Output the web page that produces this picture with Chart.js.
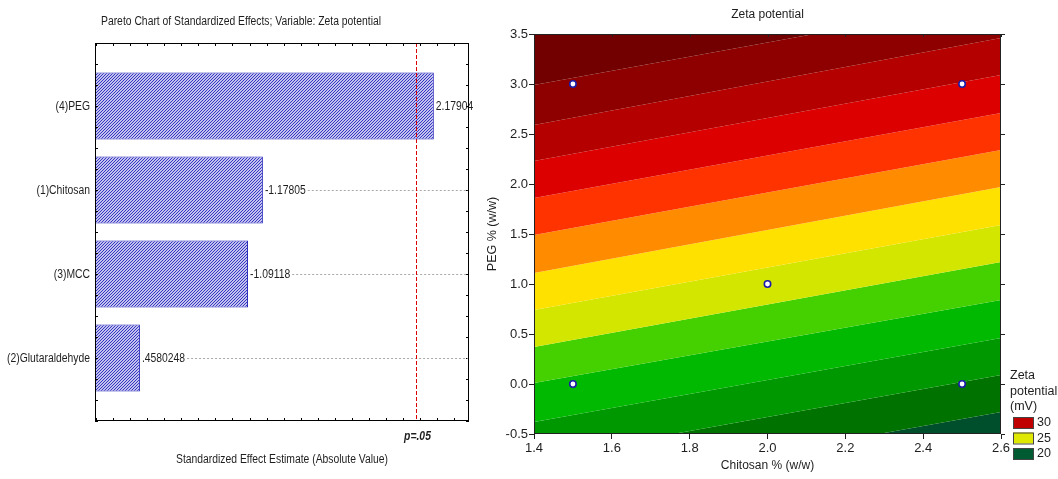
<!DOCTYPE html>
<html><head><meta charset="utf-8">
<script src="https://cdn.jsdelivr.net/npm/chart.js@4.4.0/dist/chart.umd.min.js"></script>
<style>
html,body{margin:0;padding:0;background:#fff;width:1058px;height:479px;overflow:hidden}
#left{position:absolute;left:0;top:0}
#right{position:absolute;left:470px;top:0}
</style></head><body>
<canvas id="left" width="490" height="479"></canvas>
<canvas id="right" width="588" height="479"></canvas>
<script>
// ---------- Pareto chart data ----------
const effectNames = ['(4)PEG', '(1)Chitosan', '(3)MCC', '(2)Glutaraldehyde'];
const effectValues = [2.17904, -1.17805, -1.09118, 0.4580248];
const pCritical = 2.0739;
const paretoTitle = 'Pareto Chart of Standardized Effects; Variable: Zeta potential';
const paretoXTitle = 'Standardized Effect Estimate (Absolute Value)';
const pLabel = 'p=.05';

// ---------- Contour chart data ----------
const contourTitle = 'Zeta potential';
const contourXTitle = 'Chitosan % (w/w)';
const contourYTitle = 'PEG % (w/w)';
const chitosanTicks = [1.4, 1.6, 1.8, 2.0, 2.2, 2.4, 2.6];
const pegTicks = [-0.5, 0.0, 0.5, 1.0, 1.5, 2.0, 2.5, 3.0, 3.5];
// contour boundaries (PEG value at Chitosan = 1.4 and at Chitosan = 2.6), top to bottom
const boundaryChitosan = [1.4, 2.6];
const boundaryAtLeft  = [2.99, 2.59, 2.23, 1.86, 1.49, 1.11, 0.74, 0.37, 0.01, -0.38, -0.75, -1.12];
const boundaryAtRight = [3.84, 3.46, 3.09, 2.71, 2.34, 1.97, 1.59, 1.22, 0.84, 0.46, 0.09, -0.28];
const bandColors = ['#720000', '#8e0000', '#b50000', '#dc0000', '#ff3300', '#ff8c00', '#ffe100',
                    '#d3e600', '#45d000', '#00b900', '#009800', '#007200', '#004f2c'];
const designChitosan = [1.5, 2.5, 2.0, 1.5, 2.5];
const designPEG = [3.0, 3.0, 1.0, 0.0, 0.0];
const legendTitle = ['Zeta', 'potential', '(mV)'];
const legendValues = [30, 25, 20];
const legendColors = ['#c00000', '#dfe800', '#005a32'];

const SANS = "'Liberation Sans', Arial, sans-serif";
const TXT = '#1e1e1e';

// ---------- Left: Pareto ----------
const ctxL = document.getElementById('left').getContext('2d');
const tile = document.createElement('canvas');
tile.width = 3; tile.height = 3;
(function () {
  const g = tile.getContext('2d');
  g.fillStyle = '#ffffff'; g.fillRect(0, 0, 3, 3);
  g.strokeStyle = '#2c2cc0'; g.lineWidth = 1.1;
  g.beginPath();
  g.moveTo(0, 3); g.lineTo(3, 0);
  g.moveTo(-1, 1); g.lineTo(1, -1);
  g.moveTo(2, 4); g.lineTo(4, 2);
  g.stroke();
})();
const hatch = ctxL.createPattern(tile, 'repeat');

function fmtEffect(v) {
  return String(v).replace(/^(-?)0\./, '$1.');
}

// condensed (Arial-Narrow-like) text: horizontal squeeze of Liberation Sans
let SX = 0.82;
function narrowText(ctx, text, x, y, align, font) {
  ctx.save();
  ctx.font = font || ('12px ' + SANS);
  ctx.textAlign = align;
  ctx.textBaseline = 'middle';
  ctx.translate(x, y);
  ctx.scale(SX, 1);
  ctx.fillText(text, 0, 0);
  const w = ctx.measureText(text).width * SX;
  ctx.restore();
  return w;
}

const paretoDecor = {
  id: 'paretoDecor',
  beforeDraw(chart) {
    const ctx = chart.ctx;
    ctx.save();
    ctx.font = '12px ' + SANS;
    SX = 280 / ctx.measureText(paretoTitle).width;
    ctx.restore();
  },
  afterDraw(chart) {
    const { ctx, chartArea: a, scales: { x, y } } = chart;
    ctx.save();
    ctx.strokeStyle = '#000'; ctx.lineWidth = 1;
    ctx.beginPath();
    for (let k = 2; k <= 23; k++) {
      const px = Math.round(x.getPixelForValue(k / 10)) + 0.5;
      ctx.moveTo(px, a.top); ctx.lineTo(px, a.top + 3);
      ctx.moveTo(px, a.bottom); ctx.lineTo(px, a.bottom - 3);
    }
    for (let k = -3; k <= 15; k++) {
      const py = Math.round(y.getPixelForValue(k / 4)) + 0.5;
      ctx.moveTo(a.left, py); ctx.lineTo(a.left + 3, py);
      ctx.moveTo(a.right, py); ctx.lineTo(a.right - 3, py);
    }
    ctx.stroke();
    ctx.fillStyle = TXT;
    effectNames.forEach((n, i) => {
      narrowText(ctx, n, a.left - 5, y.getPixelForValue(i) + 1, 'right');
    });
    effectValues.forEach((v, i) => {
      const px = x.getPixelForValue(Math.abs(v)) + 2;
      const py = y.getPixelForValue(i);
      ctx.fillStyle = TXT;
      const w = narrowText(ctx, fmtEffect(v), px, py + 1, 'left');
      if (px + w + 3 < a.right) {
        ctx.save();
        ctx.strokeStyle = '#a8a8a8'; ctx.setLineDash([2, 2]);
        ctx.beginPath();
        ctx.moveTo(px + w + 2, Math.round(py) + 0.5); ctx.lineTo(a.right, Math.round(py) + 0.5);
        ctx.stroke();
        ctx.restore();
      }
    });
    const pc = Math.round(x.getPixelForValue(pCritical)) + 0.5;
    ctx.save();
    ctx.strokeStyle = '#dd0000'; ctx.setLineDash([4, 2]);
    ctx.beginPath(); ctx.moveTo(pc, a.top); ctx.lineTo(pc, a.bottom); ctx.stroke();
    ctx.restore();
    ctx.strokeStyle = '#000';
    ctx.strokeRect(a.left + 0.5, a.top + 0.5, a.right - a.left - 1, a.bottom - a.top - 1);
    ctx.fillStyle = TXT;
    narrowText(ctx, pLabel, pc + 1, 437, 'center', 'italic bold 12px ' + SANS);
    narrowText(ctx, paretoXTitle, (a.left + a.right) / 2, 460, 'center');
    narrowText(ctx, paretoTitle, 241, 22, 'center');
    ctx.restore();
  }
};

new Chart(ctxL, {
  type: 'bar',
  data: {
    datasets: [{
      data: effectValues.map((v, i) => ({ x: Math.abs(v), y: i })),
      backgroundColor: hatch,
      borderColor: '#2020b8',
      borderWidth: 1,
      borderSkipped: false,
      barPercentage: 0.8,
      categoryPercentage: 1
    }]
  },
  options: {
    indexAxis: 'y',
    responsive: false, animation: false,
    layout: { padding: { top: 43, right: 21, left: 0, bottom: 0 } },
    plugins: { legend: { display: false }, tooltip: { enabled: false } },
    scales: {
      x: {
        type: 'linear', min: 0.195, max: 2.385,
        ticks: { display: false },
        grid: { display: false }, border: { display: false },
        afterFit(s) { s.height = 58; }
      },
      y: {
        type: 'linear', min: -0.75, max: 3.75, reverse: true, offset: false,
        afterBuildTicks(s) { s.ticks = effectNames.map((n, i) => ({ value: i })); },
        ticks: { display: false },
        grid: { display: false, drawTicks: false }, border: { display: false },
        afterFit(s) { s.width = 95; }
      }
    }
  },
  plugins: [paretoDecor]
});

// ---------- Right: contour ----------
const ctxR = document.getElementById('right').getContext('2d');
const bandDatasets = [];
boundaryAtLeft.forEach((yl, i) => {
  bandDatasets.push({
    data: [{ x: boundaryChitosan[0], y: yl }, { x: boundaryChitosan[1], y: boundaryAtRight[i] }],
    showLine: true, pointRadius: 0, borderWidth: 0, tension: 0,
    fill: i === 0 ? 'end' : '-1',
    backgroundColor: bandColors[i], borderColor: 'rgba(0,0,0,0)', order: 2
  });
});
const last = boundaryAtLeft.length - 1;
bandDatasets.push({
  data: [{ x: boundaryChitosan[0], y: boundaryAtLeft[last] }, { x: boundaryChitosan[1], y: boundaryAtRight[last] }],
  showLine: true, pointRadius: 0, borderWidth: 0, tension: 0,
  fill: 'start', backgroundColor: bandColors[last + 1], borderColor: 'rgba(0,0,0,0)', order: 2
});
bandDatasets.push({
  data: designChitosan.map((c, i) => ({ x: c, y: designPEG[i] })),
  showLine: false, pointRadius: 3.2, pointBorderWidth: 1.6,
  pointBackgroundColor: '#ffffff', pointBorderColor: '#1c1ca8', order: -1
});

const contourDecor = {
  id: 'contourDecor',
  afterDraw(chart) {
    const { ctx, chartArea: a, scales: { x, y } } = chart;
    ctx.save();
    ctx.strokeStyle = '#222'; ctx.lineWidth = 1;
    ctx.strokeRect(a.left + 0.5, a.top + 0.5, a.right - a.left - 1, a.bottom - a.top - 1);
    ctx.beginPath();
    chitosanTicks.forEach(v => {
      const px = Math.round(x.getPixelForValue(v)) + 0.5;
      ctx.moveTo(px, a.top); ctx.lineTo(px, a.top + 3);
    });
    pegTicks.forEach(v => {
      const py = Math.round(y.getPixelForValue(v)) + 0.5;
      ctx.moveTo(a.right, py); ctx.lineTo(a.right + 4, py);
    });
    ctx.stroke();
    ctx.fillStyle = TXT;
    ctx.font = '12px ' + SANS;
    ctx.textAlign = 'center'; ctx.textBaseline = 'middle';
    ctx.fillText(contourTitle, (a.left + a.right) / 2, 15);
    ctx.fillText(contourXTitle, (a.left + a.right) / 2, 466);
    ctx.save();
    ctx.translate(23, (a.top + a.bottom) / 2);
    ctx.rotate(-Math.PI / 2);
    ctx.font = '12.5px ' + SANS;
    ctx.fillText(contourYTitle, 0, 0);
    ctx.restore();
    const lx = 540;
    ctx.textAlign = 'left';
    ctx.font = '12.5px ' + SANS;
    legendTitle.forEach((t, i) => ctx.fillText(t, lx, 376 + i * 15.5));
    legendValues.forEach((v, i) => {
      const by = 417 + i * 15.5;
      ctx.fillStyle = legendColors[i];
      ctx.fillRect(lx + 3, by, 20, 11);
      ctx.strokeStyle = '#444';
      ctx.strokeRect(lx + 3.5, by + 0.5, 20, 11);
      ctx.fillStyle = TXT;
      ctx.fillText(String(v), lx + 27, by + 6);
    });
    ctx.restore();
  }
};

new Chart(ctxR, {
  type: 'scatter',
  data: { datasets: bandDatasets },
  options: {
    responsive: false, animation: false,
    layout: { padding: { top: 34, right: 57, left: 0, bottom: 0 } },
    plugins: { legend: { display: false }, tooltip: { enabled: false } },
    scales: {
      x: {
        type: 'linear', min: 1.4, max: 2.6,
        afterBuildTicks(s) { s.ticks = chitosanTicks.map(v => ({ value: v })); },
        ticks: { callback: v => Number(v).toFixed(1), color: TXT, font: { family: SANS, size: 13 }, padding: 2, maxRotation: 0, autoSkip: false },
        grid: { drawOnChartArea: false, tickLength: 5, color: '#222' },
        border: { display: false },
        afterFit(s) { s.height = 45; }
      },
      y: {
        type: 'linear', min: -0.5, max: 3.5,
        afterBuildTicks(s) { s.ticks = pegTicks.map(v => ({ value: v })); },
        ticks: { callback: v => Number(v).toFixed(1), color: TXT, font: { family: SANS, size: 13 }, padding: 1, autoSkip: false },
        grid: { drawOnChartArea: false, tickLength: 5, color: '#222' },
        border: { display: false },
        afterFit(s) { s.width = 64; }
      }
    }
  },
  plugins: [contourDecor]
});
</script>
</body></html>
